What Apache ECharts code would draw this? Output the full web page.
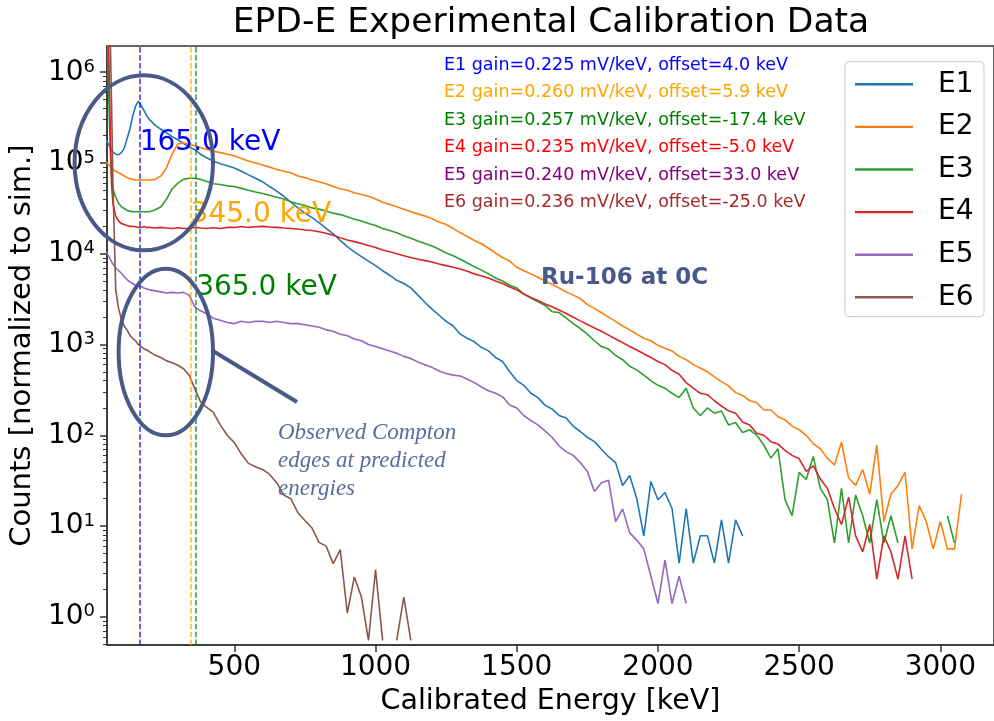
<!DOCTYPE html>
<html>
<head>
<meta charset="utf-8">
<script src="https://cdn.jsdelivr.net/npm/echarts@6/dist/echarts.min.js"></script>
<style>
html,body{margin:0;padding:0;background:#ffffff;}
#chart{width:994px;height:721px;}
</style>
</head>
<body>
<div id="chart"></div>
<script>
// ---------- data ----------
const chartTitle = 'EPD-E Experimental Calibration Data';
const xAxisTitle = 'Calibrated Energy [keV]';
const yAxisTitle = 'Counts [normalized to sim.]';
const seriesNames = ['E1', 'E2', 'E3', 'E4', 'E5', 'E6'];
const seriesColors = ['#1f77b4', '#ff7f0e', '#2ca02c', '#d62728', '#9467bd', '#8c564b'];

const energyKeV = [
  45, 50, 55, 60, 65, 70, 80, 90, 100, 110, 120, 130, 140, 150, 160, 170, 180, 190, 200, 220, 240, 260, 280, 300, 320, 340, 360, 380, 400, 425, 450, 475, 500,
  525, 550, 575, 600, 625, 650, 675, 700, 725, 750, 775, 800, 825, 850, 875, 900, 925, 950, 975, 1000,
  1025, 1050, 1075, 1100, 1125, 1150, 1175, 1200, 1225, 1250, 1275, 1300, 1325, 1350, 1375, 1400, 1425, 1450, 1475, 1500,
  1525, 1550, 1575, 1600, 1625, 1650, 1675, 1700, 1725, 1750, 1775, 1800, 1825, 1850, 1875, 1900, 1925, 1950, 1975, 2000,
  2025, 2050, 2075, 2100, 2125, 2150, 2175, 2200, 2225, 2250, 2275, 2300, 2325, 2350, 2375, 2400, 2425, 2450, 2475, 2500,
  2525, 2550, 2575, 2600, 2625, 2650, 2675, 2700, 2725, 2750, 2775, 2800, 2825, 2850, 2875, 2900, 2925, 2950, 2975, 3000,
  3025, 3050, 3075, 3100
];

const countsE1 = [
  1.8e5, 1.7e5, 1.6e5, 1.5e5, 1.4e5, 1.32e5, 1.25e5, 1.23e5, 1.3e5, 1.45e5, 1.85e5, 2.35e5, 3.3e5, 4.2e5, 4.8e5, 4.3e5, 3.8e5, 3.3e5, 3.0e5, 2.6e5, 2.35e5, 2.15e5, 1.95e5, 1.8e5, 1.65e5, 1.5e5, 1.4e5, 1.25e5, 1.15e5, 1.05e5, 9.8e4, 9.3e4, 8.8e4,
  8.1e4, 7.4e4, 6.8e4, 6.2e4, 5.5e4, 4.9e4, 4.3e4, 3.7e4, 3.2e4, 2.8e4, 2.5e4, 2.2e4, 1.9e4, 1.66e4, 1.4e4, 1.2e4, 1.05e4, 9.3e3, 8.3e3, 7.4e3,
  6.5e3, 5.8e3, 5.1e3, 4.7e3, 4.2e3, 3.5e3, 2.9e3, 2.45e3, 2.1e3, 1.8e3, 1.6e3, 1.3e3, 1.17e3, 1.07e3, 930, 850, 720, 650, 500, 400,
  355, 290, 260, 215, 195, 165, 155, 126, 110, 95, 85, 70, 58, 50, 28, 36, 20, 7.8, 31, 19.5,
  23.4, 15.6, 3.9, 15.6, 3.9, 7.8, 7.8, 3.9, 11.7, 3.9, 11.7, 7.8, null, null, null, null, null, null, null, null,
  null, null, null, null, null, null, null, null, null, null, null, null, null, null, null, null, null, null, null, null,
  null, null, null, null
];

const countsE2 = [
  1.02e5, 1.0e5, 9.6e4, 9.2e4, 8.8e4, 8.5e4, 8.1e4, 7.8e4, 7.5e4, 7.2e4, 6.9e4, 6.7e4, 6.6e4, 6.5e4, 6.5e4, 6.5e4, 6.5e4, 6.5e4, 6.5e4, 6.6e4, 7.2e4, 8.9e4, 1.26e5, 1.62e5, 1.66e5, 1.62e5, 1.55e5, 1.48e5, 1.42e5, 1.35e5, 1.3e5, 1.25e5, 1.2e5,
  1.12e5, 1.05e5, 1.0e5, 9.5e4, 9.0e4, 8.5e4, 8.1e4, 7.8e4, 7.2e4, 6.9e4, 6.5e4, 6.2e4, 5.9e4, 5.5e4, 5.2e4, 5.0e4, 4.7e4, 4.5e4, 4.3e4, 4.0e4,
  3.7e4, 3.5e4, 3.3e4, 3.1e4, 2.9e4, 2.75e4, 2.6e4, 2.43e4, 2.24e4, 2.1e4, 1.9e4, 1.7e4, 1.55e4, 1.4e4, 1.29e4, 1.15e4, 1.02e4, 9.1e3, 8.3e3, 7.1e3,
  6.5e3, 6.0e3, 5.5e3, 5.0e3, 4.6e3, 4.2e3, 3.8e3, 3.5e3, 3.2e3, 2.75e3, 2.5e3, 2.24e3, 2.0e3, 1.8e3, 1.6e3, 1.45e3, 1.3e3, 1.17e3, 1.1e3, 980,
  910, 850, 740, 680, 600, 550, 500, 440, 390, 350, 295, 275, 240, 230, 190, 190, 160, 148, 126, 115,
  100, 81, 71, 56, 47, 84, 34, 28, 42, 22.4, 78, 11.2, 22.4, 28, 39, 5.6, 16.8, 11.2, 5.6, 11.2,
  5.6, 5.6, 22.4, null
];

const countsE3 = [
  5e6, 3e6, 6e5, 1.5e5, 7e4, 5.2e4, 4.2e4, 3.6e4, 3.3e4, 3.15e4, 3.0e4, 2.95e4, 2.9e4, 2.9e4, 2.9e4, 2.9e4, 2.9e4, 2.9e4, 2.9e4, 3.05e4, 3.3e4, 4.0e4, 5.2e4, 6.0e4, 6.6e4, 6.8e4, 6.8e4, 6.6e4, 6.3e4, 5.9e4, 5.8e4, 5.6e4, 5.5e4,
  5.25e4, 5.0e4, 4.8e4, 4.6e4, 4.4e4, 4.2e4, 4.0e4, 3.75e4, 3.55e4, 3.4e4, 3.2e4, 3.1e4, 2.95e4, 2.8e4, 2.7e4, 2.55e4, 2.4e4, 2.3e4, 2.15e4, 2.05e4,
  1.9e4, 1.8e4, 1.7e4, 1.58e4, 1.48e4, 1.38e4, 1.3e4, 1.22e4, 1.12e4, 1.02e4, 9.5e3, 8.7e3, 7.9e3, 7.2e3, 6.6e3, 6.0e3, 5.4e3, 5.0e3, 4.5e3, 4.2e3,
  3.6e3, 3.25e3, 2.95e3, 2.7e3, 2.3e3, 2.25e3, 1.95e3, 1.7e3, 1.5e3, 1.3e3, 1.1e3, 950, 890, 760, 680, 575, 525, 460, 400, 355,
  330, 290, 260, 330, 200, 165, 200, 175, 185, 130, 138, 107, 115, 100, 78, 56, 71, 19.5, 13, 39,
  32.5, 58.5, 26, 19.5, 6.5, 26, 6.5, 22, 13, 6.5, 19.5, 6.5, 13, 6.5, null, null, null, null, null, null,
  13, 6.5, null, null
];

const countsE4 = [
  5e6, 5e6, 2e6, 3e5, 6e4, 3.6e4, 2.6e4, 2.3e4, 2.15e4, 2.1e4, 2.05e4, 2.0e4, 2.0e4, 1.98e4, 1.95e4, 1.95e4, 2.0e4, 1.95e4, 1.95e4, 1.92e4, 1.95e4, 1.92e4, 1.9e4, 1.93e4, 1.9e4, 1.9e4, 1.95e4, 1.92e4, 1.9e4, 1.93e4, 1.9e4, 1.95e4, 1.95e4,
  2.0e4, 1.95e4, 1.98e4, 2.0e4, 1.97e4, 1.95e4, 1.92e4, 1.9e4, 1.87e4, 1.83e4, 1.8e4, 1.75e4, 1.68e4, 1.6e4, 1.5e4, 1.42e4, 1.36e4, 1.3e4, 1.23e4, 1.17e4,
  1.1e4, 1.05e4, 1.0e4, 9.5e3, 9.1e3, 8.7e3, 8.4e3, 8.1e3, 7.7e3, 7.4e3, 7.1e3, 6.8e3, 6.4e3, 6.0e3, 5.7e3, 5.4e3, 5.0e3, 4.7e3, 4.3e3, 4.0e3,
  3.6e3, 3.3e3, 3.05e3, 2.8e3, 2.6e3, 2.4e3, 2.2e3, 2.0e3, 1.82e3, 1.66e3, 1.52e3, 1.4e3, 1.27e3, 1.15e3, 1.05e3, 950, 870, 790, 720, 650,
  600, 520, 470, 380, 330, 290, 280, 240, 210, 186, 175, 140, 130, 105, 100, 85, 80, 68, 60, 55,
  40, 46, 33, 26, 15.6, 10.4, 20.8, 7.8, 5.2, 10.4, 2.6, 7.8, 5.2, 2.6, 7.8, 2.6, null, null, null, null,
  null, null, null, null
];

const countsE5 = [
  1.05e4, 1.0e4, 9.4e3, 8.8e3, 8.2e3, 7.7e3, 7.0e3, 6.5e3, 6.1e3, 5.6e3, 5.2e3, 4.9e3, 4.7e3, 4.5e3, 4.4e3, 4.35e3, 4.2e3, 4.1e3, 4.0e3, 3.9e3, 3.8e3, 3.7e3, 3.75e3, 3.7e3, 3.75e3, 3.5e3, 2.6e3, 2.35e3, 2.2e3, 1.95e3, 1.85e3, 1.75e3, 1.7e3,
  1.8e3, 1.75e3, 1.8e3, 1.8e3, 1.75e3, 1.8e3, 1.75e3, 1.7e3, 1.7e3, 1.65e3, 1.6e3, 1.55e3, 1.45e3, 1.4e3, 1.3e3, 1.25e3, 1.15e3, 1.1e3, 1.0e3, 950,
  900, 850, 800, 740, 700, 640, 600, 560, 510, 480, 460, 450, 415, 380, 340, 310, 290, 265, 215, 200,
  165, 145, 130, 112, 95, 76, 66, 60, 50, 40, 24, 30, 32, 11.2, 15.4, 8.4, 7, 5.6, 2.8, 1.4,
  4.2, 1.4, 2.8, 1.4, null, null, null, null, null, null, null, null, null, null, null, null, null, null, null, null,
  null, null, null, null, null, null, null, null, null, null, null, null, null, null, null, null, null, null, null, null,
  null, null, null, null
];

const countsE6 = [
  5e6, 5e6, 5e6, 3e6, 5e5, 6e4, 4.0e3, 2.5e3, 1.9e3, 1.6e3, 1.45e3, 1.26e3, 1.17e3, 1.1e3, 1.0e3, 950, 900, 870, 830, 760, 720, 660, 630, 590, 540, 460, 325, 235, 205, 180, 130, 100, 83,
  62, 49, 45, 42, 37, 30, 22, 20, 14, 11.5, 9.5, 6.6, 6.0, 3.85, 5.5, 1.1, 2.75, 1.65, 0.55, 3.3,
  0.55, null, 0.55, 1.65, 0.55, null, null, null, null, null, null, null, null, null, null, null, null, null, null, null,
  null, null, null, null, null, null, null, null, null, null, null, null, null, null, null, null, null, null, null, null,
  null, null, null, null, null, null, null, null, null, null, null, null, null, null, null, null, null, null, null, null,
  null, null, null, null, null, null, null, null, null, null, null, null, null, null, null, null, null, null, null, null,
  null, null, null, null
];

const allCounts = [countsE1, countsE2, countsE3, countsE4, countsE5, countsE6];

const comptonEdgesKeV = [165, 345, 365];
const comptonEdgeLabels = ['165.0 keV', '345.0 keV', '365.0 keV'];
const comptonEdgeColors = ['#0000ff', '#ffa500', '#008000'];

const calibrationText = [
  'E1 gain=0.225 mV/keV, offset=4.0 keV',
  'E2 gain=0.260 mV/keV, offset=5.9 keV',
  'E3 gain=0.257 mV/keV, offset=-17.4 keV',
  'E4 gain=0.235 mV/keV, offset=-5.0 keV',
  'E5 gain=0.240 mV/keV, offset=33.0 keV',
  'E6 gain=0.236 mV/keV, offset=-25.0 keV'
];
const calibrationColors = ['#0000ff', '#ffa500', '#008000', '#ff0000', '#800080', '#a52a2a'];
const sourceNote = 'Ru-106 at 0C';
const comptonNote = ['Observed Compton', 'edges at predicted', 'energies'];

// minor log ticks (2..9 x 10^n) shown on the count axis
const minorTickValues = [];
for (let n = -1; n <= 6; n++) {
  for (let m = 2; m <= 9; m++) {
    const v = m * Math.pow(10, n);
    if (v > 0.4875 && v < 1.945e6) minorTickValues.push(v);
  }
}

// ---------- chart ----------
const FONT = 'DejaVu Sans';
const AXIS_COLOR = '#333333';
const NOTE_COLOR = '#4a5a88';
const Y_MIN = 0.4875, Y_MAX = 1.945e6;

const chart = echarts.init(document.getElementById('chart'), null, { renderer: 'canvas' });

const series = seriesNames.map((name, k) => ({
  name: name,
  type: 'line',
  data: energyKeV.map((e, i) => [e, allCounts[k][i] == null ? '-' : allCounts[k][i]]),
  symbol: 'none',
  showSymbol: false,
  connectNulls: false,
  clip: true,
  silent: true,
  animation: false,
  lineStyle: { width: 1.6, color: seriesColors[k] },
  itemStyle: { color: seriesColors[k] },
  emphasis: { disabled: true }
}));

series[0].markLine = {
  silent: true,
  animation: false,
  symbol: ['none', 'none'],
  label: { show: false },
  lineStyle: { type: [5.5, 2.4], width: 1.5 },
  emphasis: { disabled: true },
  data: comptonEdgesKeV.map((e, i) => ({ xAxis: e, lineStyle: { color: comptonEdgeColors[i], type: [5.5, 2.4], width: 1.5, opacity: 0.8 } }))
};

const option = {
  animation: false,
  backgroundColor: '#ffffff',
  textStyle: { fontFamily: FONT },
  grid: {
    left: 106, top: 46, right: -2, bottom: 74.3,
    show: true, borderColor: AXIS_COLOR, borderWidth: 1.5, backgroundColor: 'transparent'
  },
  legend: {
    data: seriesNames,
    orient: 'vertical',
    left: 845,
    top: 61.7,
    padding: [8.6, 10.5, 5.4, 10],
    icon: 'rect',
    itemWidth: 58,
    itemHeight: 2.4,
    itemGap: 14.6,
    backgroundColor: 'rgba(255,255,255,0.85)',
    borderColor: '#cccccc',
    borderWidth: 1,
    borderRadius: 4,
    textStyle: { fontSize: 28, lineHeight: 28, fontFamily: FONT, color: '#000000', padding: [0, 0, 0, 20] },
    selectedMode: false
  },
  xAxis: {
    type: 'value',
    min: 49,
    max: 3190,
    splitNumber: 5,
    name: xAxisTitle,
    nameLocation: 'middle',
    nameGap: 40,
    nameTextStyle: { fontSize: 28.5, fontFamily: FONT, color: '#000000', lineHeight: 28.5 },
    axisLine: { show: true, onZero: false, lineStyle: { color: AXIS_COLOR, width: 1.5 } },
    axisTick: { show: true, length: 7, lineStyle: { color: AXIS_COLOR, width: 1.5 } },
    axisLabel: {
      fontSize: 28, lineHeight: 28, fontFamily: FONT, color: '#000000', margin: 9,
      showMinLabel: false, showMaxLabel: false,
      formatter: function (v) { return String(v); }
    },
    splitLine: { show: false }
  },
  yAxis: [{
    type: 'log',
    logBase: 10,
    min: Y_MIN,
    max: Y_MAX,
    name: yAxisTitle,
    nameLocation: 'middle',
    nameGap: 67,
    nameTextStyle: { fontSize: 29, fontFamily: FONT, color: '#000000', lineHeight: 29 },
    axisLine: { show: true, onZero: false, lineStyle: { color: AXIS_COLOR, width: 1.5 } },
    axisTick: { show: true, length: 7, lineStyle: { color: AXIS_COLOR, width: 1.5 } },
    axisLabel: {
      margin: 12,
      showMinLabel: false,
      showMaxLabel: false,
      formatter: function (v) {
        const p = Math.log10(v);
        const n = Math.round(p);
        if (Math.abs(p - n) > 1e-6) return '';
        return '{b|10}{s|' + n + '}';
      },
      rich: {
        b: { fontSize: 28, lineHeight: 28, fontFamily: FONT, color: '#000000' },
        s: { fontSize: 18, lineHeight: 18, fontFamily: FONT, color: '#000000', verticalAlign: 'top' }
      }
    },
    splitLine: { show: false }
  }, {
    type: 'log',
    logBase: 10,
    min: Y_MIN,
    max: Y_MAX,
    position: 'left',
    offset: 0,
    axisLine: { show: false },
    axisLabel: { show: false },
    axisTick: { show: true, length: 4, customValues: minorTickValues, lineStyle: { color: AXIS_COLOR, width: 1 } },
    splitLine: { show: false }
  }],
  series: series
};

chart.setOption(option);

// annotation overlay (texts, ellipses, pointer line)
const edgeLabelY = [143, 215, 288];
const graphics = [];
graphics.push({
  type: 'text', x: 551, y: 23, z: 100, silent: true,
  style: { text: chartTitle, fontSize: 34.5, fontFamily: FONT, fill: '#000000', align: 'center', verticalAlign: 'middle', textAlign: 'center', textVerticalAlign: 'middle' }
});
calibrationText.forEach((t, i) => {
  graphics.push({
    type: 'text', x: 444, y: 65.5 + i * 27.45, z: 100, silent: true,
    style: { text: t, fontSize: 17.5, fontFamily: FONT, fill: calibrationColors[i], align: 'left', verticalAlign: 'middle', textAlign: 'left', textVerticalAlign: 'middle' }
  });
});
comptonEdgesKeV.forEach((e, i) => {
  const px = chart.convertToPixel({ xAxisIndex: 0 }, e);
  graphics.push({
    type: 'text', x: px, y: edgeLabelY[i], z: 100, silent: true,
    style: { text: comptonEdgeLabels[i], fontSize: 28, fontFamily: FONT, fill: comptonEdgeColors[i], align: 'left', verticalAlign: 'middle', textAlign: 'left', textVerticalAlign: 'middle' }
  });
});
graphics.push({
  type: 'text', x: 541, y: 278.3, z: 100, silent: true,
  style: { text: sourceNote, fontSize: 23, fontWeight: 'bold', fontFamily: FONT, fill: NOTE_COLOR, align: 'left', verticalAlign: 'middle', textAlign: 'left', textVerticalAlign: 'middle' }
});
comptonNote.forEach((t, i) => {
  graphics.push({
    type: 'text', x: 278, y: 433 + i * 28, z: 100, silent: true,
    style: { text: t, fontSize: 23, fontStyle: 'italic', fontFamily: 'Liberation Serif', fill: '#5a6c9c', align: 'left', verticalAlign: 'middle', textAlign: 'left', textVerticalAlign: 'middle' }
  });
});
graphics.push({
  type: 'ellipse', z: 101, silent: true,
  shape: { cx: 143.8, cy: 162.8, rx: 69.2, ry: 87.5 },
  style: { fill: null, stroke: NOTE_COLOR, lineWidth: 4 }
});
graphics.push({
  type: 'ellipse', z: 101, silent: true,
  shape: { cx: 165.8, cy: 352, rx: 47.2, ry: 83.3 },
  style: { fill: null, stroke: NOTE_COLOR, lineWidth: 4 }
});
graphics.push({
  type: 'line', z: 101, silent: true,
  shape: { x1: 213, y1: 351, x2: 297, y2: 402 },
  style: { stroke: NOTE_COLOR, lineWidth: 4 }
});

chart.setOption({ graphic: { elements: graphics } });
</script>
</body>
</html>
